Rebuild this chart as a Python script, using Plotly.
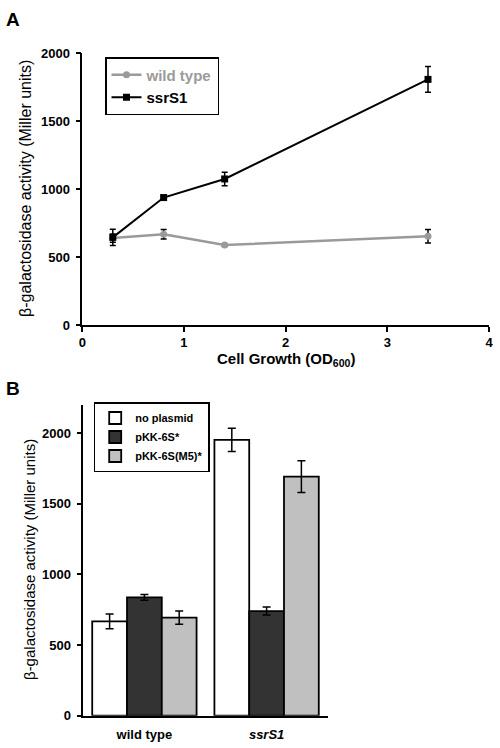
import plotly.graph_objects as go

# Panel A data
od = [0.3, 0.8, 1.4, 3.4]
wt = [640, 668, 589, 653]
wt_err = [30, 35, 10, 50]
ssr = [645, 938, 1075, 1808]
ssr_err = [60, 15, 50, 95]

# Panel B data
strains = ["wild type", "ssrS1"]
strain_labels = ["wild type", "<i>ssrS1</i>"]
no_plasmid = [668, 1953]
no_plasmid_err = [52, 83]
pkk6s = [838, 741]
pkk6s_err = [20, 28]
pkk6sm5 = [694, 1693]
pkk6sm5_err = [47, 112]

W, H = 500, 748
FONT = "Liberation Sans"

def px(x):
    return x / W

def py(y):
    return (H - y) / H

fig = go.Figure()

fig.add_trace(go.Scatter(
    x=od, y=wt, mode="lines+markers", name="<span style='color:#9a9a9a'>wild type</span>",
    line=dict(color="#9a9a9a", width=2.5),
    marker=dict(symbol="circle", size=7, color="#9a9a9a"),
    error_y=dict(type="data", array=wt_err, color="black", thickness=1.5, width=3),
    xaxis="x", yaxis="y", legend="legend", cliponaxis=False,
))
fig.add_trace(go.Scatter(
    x=od, y=ssr, mode="lines+markers", name="ssrS1",
    line=dict(color="black", width=2),
    marker=dict(symbol="square", size=7, color="black"),
    error_y=dict(type="data", array=ssr_err, color="black", thickness=1.5, width=3),
    xaxis="x", yaxis="y", legend="legend", cliponaxis=False,
))

bar_specs = [
    ("no plasmid", no_plasmid, no_plasmid_err, "white"),
    ("pKK-6S*", pkk6s, pkk6s_err, "#333333"),
    ("pKK-6S(M5)*", pkk6sm5, pkk6sm5_err, "#c0c0c0"),
]
for name, vals, errs, col in bar_specs:
    fig.add_trace(go.Bar(
        x=strains, y=vals, name=name,
        marker=dict(color=col, line=dict(color="black", width=1.8)),
        error_y=dict(type="data", array=errs, color="black", thickness=1.5, width=4),
        xaxis="x2", yaxis="y2", legend="legend2",
    ))

tickfont = dict(family=FONT, size=13, color="black", weight="bold")

fig.update_layout(
    width=W, height=H,
    margin=dict(l=0, r=0, t=0, b=0),
    paper_bgcolor="white", plot_bgcolor="white",
    barmode="group", bargap=0.146, bargroupgap=0,
    font=dict(family=FONT, color="black"),
    xaxis=dict(
        domain=[px(82.3), px(489)], range=[0, 4], tickvals=[0, 1, 2, 3, 4],
        showline=True, linecolor="black", linewidth=1.5, showgrid=False, zeroline=False,
        ticks="outside", ticklen=5, tickwidth=1.5, tickcolor="black", tickfont=tickfont,
        anchor="y", automargin=False,
    ),
    yaxis=dict(
        domain=[py(325), py(53.3)], range=[0, 2000], tickvals=[0, 500, 1000, 1500, 2000],
        showline=True, linecolor="black", linewidth=1.5, showgrid=False, zeroline=False,
        ticks="outside", ticklen=5, tickwidth=1.5, tickcolor="black", tickfont=tickfont,
        anchor="x", ticklabelstandoff=3, automargin=False,
    ),
    xaxis2=dict(
        domain=[px(83.3), px(327.7)], tickvals=strains, ticktext=strain_labels,
        showline=True, linecolor="black", linewidth=1.5, showgrid=False, zeroline=False,
        ticks="", tickfont=tickfont, anchor="y2", ticklabelstandoff=6, automargin=False,
    ),
    yaxis2=dict(
        domain=[py(715.7), py(405)], range=[0, 2200], tickvals=[0, 500, 1000, 1500, 2000],
        showline=True, linecolor="black", linewidth=1.5, showgrid=False, zeroline=False,
        ticks="outside", ticklen=5, tickwidth=1.5, tickcolor="black", tickfont=tickfont,
        anchor="x2", ticklabelstandoff=3, automargin=False,
    ),
    legend=dict(
        x=px(105), y=py(57), xanchor="left", yanchor="top",
        bordercolor="black", borderwidth=1.5, bgcolor="white",
        font=dict(family=FONT, size=15, color="black", weight="bold"),
        tracegroupgap=0, itemwidth=30,
    ),
    legend2=dict(
        x=px(93.7), y=py(402), xanchor="left", yanchor="top",
        bordercolor="black", borderwidth=1.5, bgcolor="white",
        font=dict(family=FONT, size=11, color="black", weight="bold"),
        tracegroupgap=0,
    ),
    showlegend=True,
)

annotations = [
    dict(text="A", x=px(4), y=py(19.5), xanchor="left", yanchor="middle",
         font=dict(family=FONT, size=19, color="black", weight="bold")),
    dict(text="B", x=px(4), y=py(388.5), xanchor="left", yanchor="middle",
         font=dict(family=FONT, size=19, color="black", weight="bold")),
    dict(text="β-galactosidase activity (Miller units)", x=px(25), y=py(189),
         xanchor="center", yanchor="middle", textangle=-90,
         font=dict(family=FONT, size=16, color="black")),
    dict(text="β-galactosidase activity (Miller units)", x=px(29), y=py(560),
         xanchor="center", yanchor="middle", textangle=-90,
         font=dict(family=FONT, size=15, color="black")),
    dict(text="Cell Growth (OD<sub>600</sub>)", x=px(286), y=py(359),
         xanchor="center", yanchor="middle",
         font=dict(family=FONT, size=15, color="black", weight="bold")),
]
for a in annotations:
    a.update(xref="paper", yref="paper", showarrow=False)
fig.update_layout(annotations=annotations)

fig.write_html(
    "out.html",
    config={"displayModeBar": False},
    post_script="document.body.style.margin='0';document.body.style.overflow='hidden';",
)
